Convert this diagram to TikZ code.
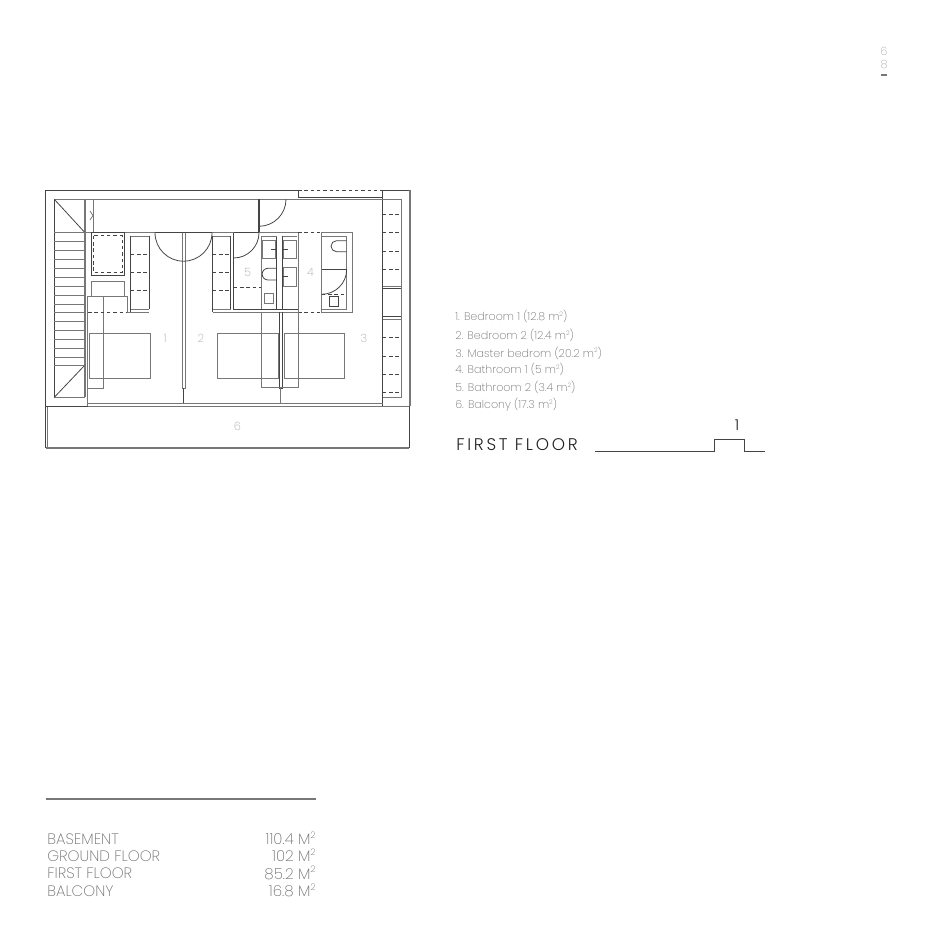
\documentclass[tikz,border=0pt]{standalone}
\usepackage{fontspec}
\setmainfont{Poppins ExtraLight}
\newfontfamily\titlefont{Poppins Light}
\usepackage{xcolor}
\definecolor{color444444}{HTML}{444444}
\definecolor{color222222}{HTML}{222222}
\definecolor{color777777}{HTML}{777777}
\definecolor{coloraaaaaa}{HTML}{AAAAAA}
\definecolor{color707070}{HTML}{707070}
\newcommand{\squared}{\raisebox{0.38em}{\fontsize{3.6}{4}\selectfont 2}}
\newcommand{\squaredbig}{\raisebox{0.42em}{\fontsize{5.2}{6}\selectfont 2}}
\begin{document}
\begin{tikzpicture}
    [x=0.02cm, y=-0.02cm,
    wall/.style={draw=color444444, line width=0.45pt},
    fixture/.style={draw=color777777, line width=0.45pt},
    dashline/.style={draw=color444444, line width=0.42pt, dash pattern=on 2pt off 1.6pt},
    roomnum/.style={text=coloraaaaaa, font=\fontsize{6.5}{8}\selectfont, inner sep=0pt},
    legend/.style={text=color707070, font=\fontsize{6.3}{8}\selectfont, anchor=west, inner sep=0pt},
    areaname/.style={text=color707070, font=\fontsize{8.6}{10}\selectfont, anchor=west, inner sep=0pt},
    areaval/.style={text=color707070, font=\fontsize{8.6}{10}\selectfont, anchor=east, inner sep=0pt},
    ]

\useasboundingbox (0,0) rectangle (945,945);

% outer walls and balcony
\draw[wall] (298,190) -- (45.5,190) -- (45.5,448);
\draw[wall] (382.7,406) -- (382.7,190) -- (410,190);
\draw[fixture, line width=0.9pt] (410,190) -- (410,406);
\draw[wall] (409,406) -- (409,448);
\draw[fixture, line width=0.9pt] (45.5,448) -- (409,448);
\draw[fixture] (47,406) -- (47,447);
\draw[wall] (45.5,406) -- (87.7,406);
\draw[fixture] (87.7,406) -- (409,406);
\draw[fixture] (87.7,403) -- (382.7,403);
\draw[dashline] (298,190.5) -- (382.7,190.5);
\draw[wall] (298,190) -- (298,197) -- (382.7,197);
\draw[fixture] (54.3,199.3) -- (382.7,199.3);

% stairs
\draw[fixture] (54.3,397.3) -- (85,397.3);
\draw[wall] (54.3,199.3) -- (54.3,397.3);
\draw[fixture, line width=0.8pt] (85,199.3) -- (85,397.3);
\draw[wall] (54.3,199.3) -- (85,232.7);
\draw[wall] (54.3,397.3) -- (85,365);
\foreach \y in {232.7,241.6,250.5,259.4,268.3,277.2,286.1,295,303.9,312.8,321.7,330.6,339.5,348.4,357.3,365}
    \draw[fixture] (54.3,\y) -- (85,\y);
\draw[fixture] (93,199.3) -- (93,232.7);
\draw[fixture] (90,211) -- (93,215.5) -- (90,220);

% back wall
\draw[fixture, line width=0.7pt] (85,232.7) -- (155,232.7);
\draw[wall, line width=0.8pt] (155,232.7) -- (212,232.7);
\draw[fixture, line width=0.7pt] (212,232.7) -- (234,232.7);
\draw[wall, line width=0.8pt] (234,232.7) -- (259,232.7);
\draw[wall, line width=0.8pt] (259,199.3) -- (259,232.7);
\draw[fixture] (259,232.7) -- (298,232.7);

% closet and desk
\draw[wall] (91,232.7) rectangle (124.5,275);
\draw[dashline] (93.7,235.7) rectangle (122,272.7);
\draw[fixture] (91,296) -- (91,281.7) -- (124.5,281.7) -- (124.5,296);
\draw[fixture] (87.7,406) -- (87.7,296.3) -- (127.3,296.3) -- (127.3,312);
\draw[fixture] (103.3,296.3) -- (103.3,388) -- (87.7,388);
\draw[dashline] (88,312) -- (127.3,312);
\draw[fixture] (127.3,312) -- (149,312);

% wardrobes
\foreach \xa/\xb in {130.7/149,212.7/230.7}{
    \draw[fixture] (\xa,236) -- (\xb,236);
    \draw[wall] (\xa,236) -- (\xa,312);
    \draw[wall] (\xb,236) -- (\xb,309.3);
    \draw[fixture] (\xa,309.3) -- (\xb,309.3);
    \foreach \y in {254,272.3,290.3}
        \draw[dashline] (\xa,\y) -- (\xb,\y);
}
\draw[fixture] (212.7,312) -- (298,312);

% partition walls
\draw[fixture] (182,232.7) -- (182,388) -- (185,388) -- (185,232.7);
\draw[wall] (183.5,388) -- (183.5,403);
\draw[wall] (279.3,312) -- (279.3,388) -- (282.3,388) -- (282.3,312);
\draw[fixture] (280.8,388) -- (280.8,403);

% doors
\draw[wall] (155,232.7) arc[start angle=180, end angle=90, radius=28.5];
\draw[wall] (212,232.7) arc[start angle=0, end angle=90, radius=28.5];
\draw[wall] (259,232.7) arc[start angle=0, end angle=90, radius=25.3];
\draw[wall] (286,199.3) arc[start angle=0, end angle=90, radius=27];

% bathroom 5
\draw[wall] (233.7,232.7) -- (233.7,309.3) -- (298,309.3);
\draw[dashline] (233.7,287.7) -- (261.3,287.7);
\draw[fixture] (261.3,236) -- (261.3,309.3);
\draw[wall] (276.7,236) -- (276.7,309.3);
\draw[wall] (282.7,236) -- (282.7,309.3);
\draw[fixture] (298,232.7) -- (298,312);
\draw[fixture] (261.3,236) -- (276.7,236);
\draw[fixture] (282.7,236) -- (296.7,236);
\draw[fixture] (262.3,240.7) rectangle (275,258.7);
\draw[wall] (271,249.3) -- (276.7,249.3);
\draw[wall] (276.7,268.3) -- (268,268.3) arc[start angle=270, end angle=90, radius=5.85] -- (276.7,280);
\draw[fixture] (264,293.7) rectangle (273.3,303);
\draw[fixture] (283.3,240.7) rectangle (296,258.7);
\draw[wall] (282.7,249.3) -- (287.5,249.3);
\draw[fixture] (283.3,267.7) rectangle (296,286);
\draw[wall] (282.7,276.7) -- (287.5,276.7);

% bathroom 4
\draw[dashline] (298,232.7) -- (321.7,232.7);
\draw[dashline] (298,312) -- (321.7,312);
\draw[fixture] (321.7,232.7) rectangle (352.3,312);
\draw[fixture] (321.7,236) -- (346.7,236) -- (346.7,309.3) -- (321.7,309.3);
\draw[wall] (346.7,240.7) -- (336.5,240.7) arc[start angle=270, end angle=90, radius=5.5] -- (346.7,251.7);
\draw[wall] (321.7,269.3) -- (346.7,269.3);
\draw[wall] (346.7,269.3) arc[start angle=0, end angle=90, radius=25];
\draw[dashline] (321.7,294.3) -- (346.7,294.3);
\draw[wall] (329.3,296.7) rectangle (338.7,306);

% window strip
\draw[fixture] (382.7,199.3) -- (401,199.3) -- (401,397.3) -- (382.7,397.3);
\foreach \y in {214.3,232.7,251,269.3,337.7,356,374,392.3}
    \draw[dashline] (382.7,\y) -- (401,\y);
\draw[wall] (382.7,288.3) -- (401,288.3);
\draw[fixture] (382.7,286) -- (401,286);
\draw[wall] (382.7,316.7) -- (401,316.7);
\draw[fixture] (382.7,319) -- (401,319);

% beds
\draw[fixture] (89.3,333.3) rectangle (150.3,378.7);
\draw[fixture] (217,333.3) rectangle (278,378.7);
\draw[fixture] (284,333.3) rectangle (344.7,378.7);
\draw[fixture] (261,312) -- (261,387.7) -- (298,387.7) -- (298,312);

% room numbers
\node[roomnum] (num_1) at (165,338) {1};
\node[roomnum] (num_2) at (201,338) {2};
\node[roomnum] (num_3) at (364,338) {3};
\node[roomnum] (num_4) at (310.5,272) {4};
\node[roomnum] (num_5) at (247.5,272) {5};
\node[roomnum] (num_6) at (237.5,426.5) {6};

% legend
\node[legend] (leg_1) at (455,316.5) {1. Bedroom 1 (12.8 m\squared)};
\node[legend] (leg_2) at (455,335.5) {2. Bedroom 2 (12.4 m\squared)};
\node[legend] (leg_3) at (455,353) {3. Master bedrom (20.2 m\squared)};
\node[legend] (leg_4) at (455,369.5) {4. Bathroom 1 (5 m\squared)};
\node[legend] (leg_5) at (455,387.5) {5. Bathroom 2 (3.4 m\squared)};
\node[legend] (leg_6) at (455,404.5) {6. Balcony (17.3 m\squared)};

\node[anchor=west, inner sep=0pt, text=color222222, font=\titlefont\fontsize{9.6}{11}\selectfont\addfontfeatures{LetterSpace=16}] (floor_title) at (456,444.5) {FIRST FLOOR};
\node[inner sep=0pt, text=color222222, font=\titlefont\fontsize{8.5}{10}\selectfont] (floor_num) at (737,425.5) {1};
\draw[wall] (595,451) -- (714,451) -- (714,439) -- (744,439) -- (744,451) -- (765,451);

% areas
\draw[fixture, line width=0.7pt] (46,799) -- (316,799);
\node[areaname] (name_a) at (47,839) {BASEMENT};
\node[areaname] (name_b) at (47,856.5) {GROUND FLOOR};
\node[areaname] (name_c) at (47,873.5) {FIRST FLOOR};
\node[areaname] (name_d) at (47,891.5) {BALCONY};
\node[areaval] (val_a) at (316,838.5) {110.4 M\squaredbig};
\node[areaval] (val_b) at (316,855.5) {102 M\squaredbig};
\node[areaval] (val_c) at (316,873) {85.2 M\squaredbig};
\node[areaval] (val_d) at (316,890.5) {16.8 M\squaredbig};

% page number
\node[roomnum] (page_a) at (884,51.5) {6};
\node[roomnum] (page_b) at (884,64.5) {8};
\draw[fixture, line width=0.6pt] (881,75) -- (887,75);

\end{tikzpicture}
\end{document}
